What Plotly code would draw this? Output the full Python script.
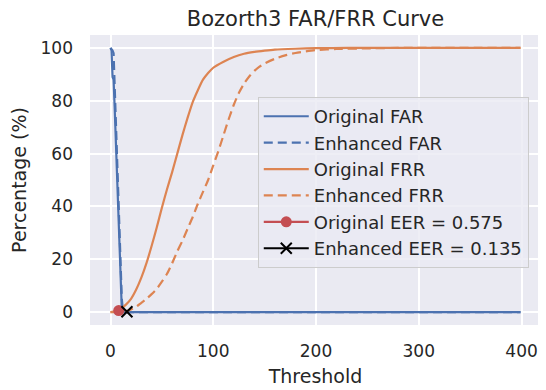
import plotly.graph_objects as go

# ---- data ----
far_thr_orig = [0, 1, 2, 3, 4, 5, 6, 7, 8, 9, 10, 11, 12, 14, 20, 50, 100, 200, 300, 399]
far_orig = [100, 99, 89, 88, 78, 67, 56, 44, 32, 20, 8, 1.0, 0.3, 0, 0, 0, 0, 0, 0, 0]

far_thr_enh = [0, 1, 2, 3, 4, 5, 6, 7, 8, 9, 10, 11, 12, 13, 15, 20, 50, 100, 200, 300, 399]
far_enh = [100, 99.5, 99, 98, 86, 75, 63, 51, 39, 27, 15, 5, 1.0, 0.3, 0, 0, 0, 0, 0, 0, 0]

frr_thr_orig = [0, 5, 10, 15, 20, 25, 30, 35, 40, 45, 50, 55, 60, 65, 70, 75, 80, 85, 90,
                95, 100, 110, 120, 130, 140, 150, 160, 180, 200, 230, 300, 399]
frr_orig = [0, 0.3, 1.2, 2.8, 5, 8.5, 13, 18.5, 25, 32, 39.5, 46.5, 53, 60, 67, 73.5, 79.5,
            84, 88, 90.5, 92.5, 94.8, 96.6, 97.8, 98.5, 99, 99.4, 99.7, 99.9, 100, 100, 100]

frr_thr_enh = [0, 5, 10, 15, 20, 25, 30, 35, 40, 45, 50, 55, 60, 65, 70, 75, 80, 85, 90, 95,
               100, 105, 110, 115, 120, 125, 130, 135, 140, 145, 150, 160, 170, 180, 190,
               200, 220, 250, 280, 399]
frr_enh = [0, 0, 0.1, 0.4, 1, 2, 3.5, 5, 6.8, 8.8, 11.5, 14.5, 18.5, 23, 27, 31.5, 36, 41,
           45.5, 50, 55.5, 61, 67, 73, 78.5, 83, 86.5, 89.2, 91.3, 92.9, 94.1, 95.9, 97.2,
           98.1, 98.7, 99.2, 99.6, 99.85, 100, 100]

eer_orig_thr = [8]
eer_orig = [0.575]
eer_enh_thr = [16]
eer_enh = [0.135]

BLUE = "#4C72B0"
ORANGE = "#DD8452"
RED = "#C44E52"
TXT = "#262626"
FONT = "DejaVu Sans"

fig = go.Figure()
fig.add_trace(go.Scatter(x=far_thr_orig, y=far_orig, mode="lines", name="Original FAR",
                         line=dict(color=BLUE, width=2.2), legendgroup="a"))
fig.add_trace(go.Scatter(x=far_thr_enh, y=far_enh, mode="lines", name="Enhanced FAR",
                         line=dict(color=BLUE, width=2.2, dash="9px,5px"), legendgroup="b"))
fig.add_trace(go.Scatter(x=frr_thr_orig, y=frr_orig, mode="lines", name="Original FRR",
                         line=dict(color=ORANGE, width=2.2, shape="spline", smoothing=0.6),
                         legendgroup="c"))
fig.add_trace(go.Scatter(x=frr_thr_enh, y=frr_enh, mode="lines", name="Enhanced FRR",
                         line=dict(color=ORANGE, width=2.2, dash="9px,5px", shape="spline",
                                   smoothing=0.6), legendgroup="d"))
fig.add_trace(go.Scatter(x=eer_orig_thr, y=eer_orig, mode="lines+markers",
                         name="Original EER = 0.575",
                         line=dict(color=RED, width=2.2),
                         marker=dict(symbol="circle", size=11, color=RED), legendgroup="e"))
fig.add_trace(go.Scatter(x=eer_enh_thr, y=eer_enh, mode="lines+markers",
                         name="Enhanced EER = 0.135",
                         line=dict(color="black", width=2.2),
                         marker=dict(symbol="x-thin", size=11, color="black",
                                     line=dict(color="black", width=2)), legendgroup="f"))

# the page has an 8px body margin, so the figure is placed at (8, 8)
fig.update_layout(
    width=538, height=382,
    margin=dict(l=82, r=5, t=27, b=65),
    paper_bgcolor="white",
    plot_bgcolor="#EAEAF2",
    font=dict(family=FONT, size=17, color=TXT),
    title=dict(text="Bozorth3 FAR/FRR Curve", x=0.5, xref="paper", xanchor="center",
               y=1 - 10.5 / 382, yanchor="middle", font=dict(size=21, color=TXT)),
    showlegend=True,
    legend=dict(x=0.372, y=0.786, xanchor="left", yanchor="top",
                bgcolor="rgba(234,234,242,0.8)", bordercolor="#CCCCCC", borderwidth=1,
                font=dict(size=18, color=TXT), tracegroupgap=0, itemwidth=45),
    xaxis=dict(range=[-19.95, 418.95], tickvals=[0, 100, 200, 300, 400],
               showgrid=True, gridcolor="white", gridwidth=1.5, zeroline=False,
               showline=False, ticks="", ticklabelstandoff=14,
               title=dict(text="Threshold", font=dict(size=19, color=TXT), standoff=9)),
    yaxis=dict(range=[-4.9, 104.9], tickvals=[0, 20, 40, 60, 80, 100],
               showgrid=True, gridcolor="white", gridwidth=1.5, zeroline=False,
               showline=False, ticks="", ticklabelstandoff=16,
               title=dict(text="Percentage (%)", font=dict(size=19, color=TXT), standoff=8)),
)

fig.write_html("out.html")
